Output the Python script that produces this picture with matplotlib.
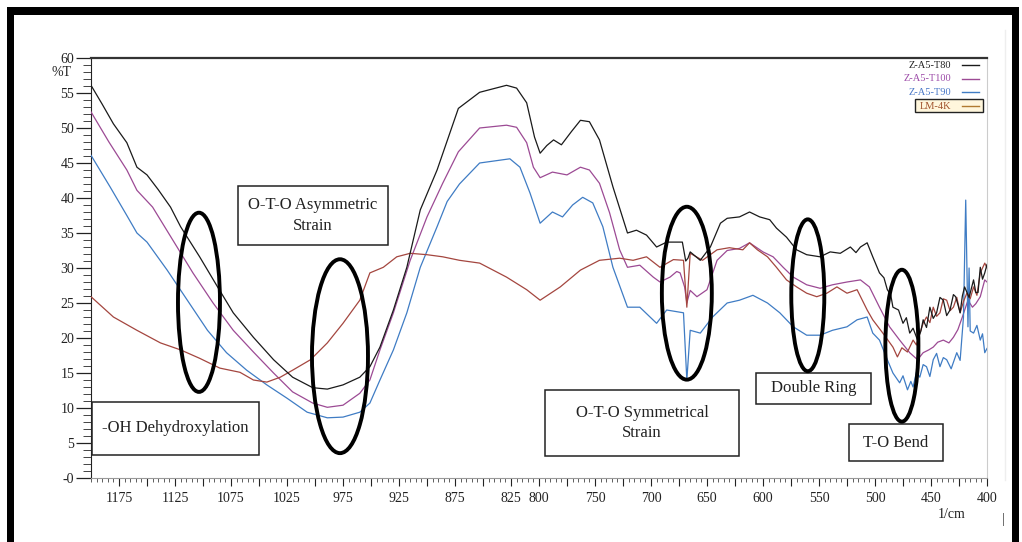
import matplotlib
matplotlib.use('Agg')
import matplotlib.pyplot as plt
from matplotlib.patches import Ellipse, Rectangle
from matplotlib.ticker import FixedLocator, MultipleLocator, FuncFormatter

plt.rcParams['font.family'] = ['Liberation Serif', 'DejaVu Serif']

# wavenumber (1/cm) and %T
wn_t80 = [1200, 1190, 1180, 1168, 1159, 1150, 1140, 1129, 1120, 1103, 1087, 1073, 1055, 1037,
          1020, 1002, 989, 975, 960, 951, 942, 930, 918, 906, 891, 872, 853, 829, 820, 811, 804,
          799, 793, 787, 780, 771, 763, 755, 746, 734, 721, 713, 704, 695, 686, 672, 669, 667,
          665, 656, 647, 638, 632, 621, 612, 603, 594, 588, 579, 570, 561, 549, 540, 531, 522,
          517, 513, 507, 502, 496, 492, 489, 486, 484, 479, 475, 472, 469, 466, 462, 459, 457,
          454, 451, 448, 445, 442, 439, 436, 433, 430, 428, 426, 424, 422, 420, 416, 412, 410,
          408, 406, 404, 402, 400]
t80 = [56.1, 53.4, 50.6, 47.9, 44.4, 43.3, 41.2, 38.7, 35.9, 31.6, 27.3, 23.6, 20.1, 16.9,
       14.4, 12.9, 12.7, 13.3, 14.4, 15.9, 18.7, 24.0, 30.1, 38.3, 44.0, 52.8, 55.1, 56.1, 55.7,
       53.6, 48.7, 46.4, 47.5, 48.3, 47.6, 49.5, 51.1, 50.9, 48.3, 41.6, 35.0, 35.4, 34.7, 33.0,
       33.7, 33.7, 31.0, 31.4, 32.3, 31.1, 33.0, 36.4, 37.1, 37.3, 38.0, 37.3, 36.9, 35.7, 34.4,
       32.6, 31.9, 31.6, 32.3, 32.1, 33.0, 32.2, 33.0, 33.6, 31.6, 29.3, 28.6, 26.9, 26.2, 24.4,
       24.0, 22.1, 22.9, 20.7, 21.4, 19.7, 21.0, 22.6, 21.5, 24.4, 22.8, 23.6, 25.8, 25.4, 23.2,
       24.0, 26.2, 25.9, 24.8, 23.6, 26.0, 27.3, 25.8, 28.3, 26.5, 26.5, 30.1, 28.4, 29.3, 30.5]

wn_t100 = [1200, 1184, 1168, 1159, 1145, 1127, 1109, 1091, 1073, 1055, 1037, 1020, 1002, 989,
           975, 960, 951, 942, 930, 915, 900, 886, 872, 853, 829, 820, 811, 805, 799, 788, 775,
           763, 755, 746, 737, 728, 721, 710, 698, 692, 683, 677, 674, 670, 668, 665, 659, 650,
           641, 632, 621, 612, 600, 591, 582, 573, 561, 549, 538, 525, 513, 505, 496, 487, 478,
           469, 462, 457, 452, 448, 444, 439, 434, 430, 426, 422, 417, 413, 410, 406, 402, 400]
t100 = [52.3, 48.0, 44.0, 41.1, 38.7, 34.0, 29.3, 25.0, 21.1, 18.0, 15.0, 12.3, 10.7, 10.1,
        10.4, 12.1, 14.0, 18.3, 23.6, 31.1, 37.3, 42.1, 46.6, 50.0, 50.4, 50.1, 47.9, 44.4, 42.9,
        43.7, 43.3, 44.4, 44.0, 42.1, 37.9, 32.6, 30.1, 30.4, 28.7, 28.0, 28.7, 29.5, 29.3, 27.3,
        25.0, 26.8, 25.9, 26.9, 31.1, 32.5, 32.8, 33.6, 32.3, 31.6, 30.1, 28.7, 27.6, 27.1, 27.6,
        28.0, 28.3, 27.3, 24.4, 21.6, 19.7, 17.9, 16.9, 17.9, 18.3, 18.7, 19.4, 19.7, 19.3, 20.1,
        21.2, 23.0, 25.4, 24.4, 24.9, 25.9, 28.3, 28.0]

wn_t90 = [1200, 1183, 1168, 1159, 1150, 1132, 1114, 1096, 1079, 1061, 1043, 1025, 1007, 989,
          975, 960, 951, 942, 930, 918, 906, 891, 882, 871, 853, 826, 817, 808, 799, 788, 779,
          770, 761, 752, 743, 734, 721, 710, 695, 686, 671, 668, 665, 656, 645, 632, 621, 609,
          596, 585, 573, 561, 549, 538, 525, 516, 507, 502, 496, 489, 484, 478, 475, 471, 468,
          466, 463, 460, 457, 454, 451, 448, 445, 442, 439, 436, 432, 427, 424, 421, 419, 417,
          416, 415, 412, 409, 406, 404, 402, 400]
t90 = [46.1, 41.6, 37.5, 35.0, 33.7, 29.7, 25.4, 21.1, 17.9, 15.4, 13.3, 11.4, 9.4, 8.6,
       8.7, 9.4, 10.7, 14.0, 18.3, 23.6, 30.1, 35.9, 39.5, 42.0, 45.0, 45.6, 44.4, 40.7, 36.4,
       38.0, 37.3, 39.0, 40.1, 39.3, 35.9, 30.1, 24.4, 24.4, 22.1, 24.0, 23.6, 14.0, 21.1, 20.7,
       23.0, 25.0, 25.4, 26.1, 25.0, 23.6, 21.6, 20.4, 20.4, 21.1, 21.6, 22.6, 23.0, 20.7, 19.7,
       16.9, 15.0, 13.6, 14.6, 12.6, 13.8, 13.0, 15.1, 14.4, 16.2, 15.9, 14.5, 16.9, 17.8, 15.9,
       17.2, 16.9, 15.6, 17.9, 16.8, 23.0, 39.7, 21.6, 30.0, 21.0, 20.7, 21.8, 19.7, 20.6, 17.9,
       18.5]

wn_lm4k = [1200, 1180, 1159, 1138, 1120, 1103, 1085, 1067, 1055, 1043, 1031, 1020, 1004, 989,
           975, 960, 951, 939, 927, 915, 900, 886, 871, 853, 829, 811, 799, 781, 763, 746, 728,
           716, 704, 692, 680, 671, 668, 665, 654, 641, 630, 618, 612, 605, 596, 588, 579, 570,
           561, 552, 543, 534, 525, 516, 507, 502, 493, 484, 480, 476, 471, 466, 463, 460, 457,
           454, 451, 448, 445, 442, 439, 436, 433, 430, 427, 424, 421, 418, 415, 412, 409, 406,
           402, 400]
lm4k = [25.9, 23.0, 21.1, 19.3, 18.3, 17.1, 15.7, 15.1, 14.0, 13.7, 14.4, 15.4, 16.9, 19.3,
        22.1, 25.4, 29.3, 30.1, 31.6, 32.1, 31.9, 31.6, 31.1, 30.7, 28.7, 26.9, 25.4, 27.3, 29.7,
        31.1, 31.4, 31.1, 31.6, 30.1, 31.2, 31.1, 24.4, 32.1, 31.1, 32.6, 32.9, 32.6, 33.6, 32.6,
        31.6, 30.1, 28.3, 27.3, 26.4, 25.9, 26.4, 27.3, 26.4, 26.9, 24.0, 22.6, 20.7, 18.7, 17.3,
        18.6, 18.0, 19.7, 19.0, 20.7, 22.1, 23.0, 22.2, 24.4, 23.1, 23.6, 25.6, 25.4, 23.9, 24.4,
        25.8, 23.6, 25.2, 26.4, 25.6, 27.3, 26.1, 29.3, 30.7, 30.0]

x_labels = [1175, 1125, 1075, 1025, 975, 925, 875, 825, 800, 750, 700, 650, 600, 550, 500, 450, 400]

fig = plt.figure(figsize=(10.22, 5.42), dpi=100)
W, H = 1022.0, 542.0
ax = fig.add_axes([91 / W, 1 - 478 / H, 896 / W, 420 / H])

ax.plot(wn_t80, t80, color='#1a1a1a', lw=0.9, zorder=4)
ax.plot(wn_t100, t100, color='#9c4a94', lw=0.9, zorder=3)
ax.plot(wn_t90, t90, color='#3f7cc4', lw=0.9, zorder=3)
ax.plot(wn_lm4k, lm4k, color='#a4463f', lw=0.9, zorder=3)

ax.set_xlim(1200, 400)
ax.set_ylim(0, 60)

ax.xaxis.set_major_locator(FixedLocator(list(range(400, 1200, 25))))
ax.xaxis.set_minor_locator(MultipleLocator(5))
ax.xaxis.set_major_formatter(FuncFormatter(lambda v, p: str(int(v)) if int(v) in x_labels else ''))
ax.yaxis.set_major_locator(MultipleLocator(5))
ax.yaxis.set_minor_locator(MultipleLocator(1))
ax.yaxis.set_major_formatter(FuncFormatter(lambda v, p: '-0' if v == 0 else str(int(v))))
ax.tick_params(axis='x', which='major', length=6, width=0.8, labelsize=10, pad=4, colors='#222222')
ax.tick_params(axis='x', which='minor', length=3, width=0.6, color='#444444')
ax.tick_params(axis='y', which='major', length=11, width=0.9, labelsize=10, pad=1, colors='#222222')
ax.tick_params(axis='y', which='minor', length=6, width=0.7, color='#444444')

ax.spines['top'].set_color('#333333')
ax.spines['top'].set_linewidth(1.6)
ax.spines['right'].set_color('#cccccc')
ax.spines['bottom'].set_color('#999999')
ax.spines['left'].set_color('#222222')

# annotation boxes (data coords)
boxes = [
    (1199, 3.3, 1050, 10.9, '-OH Dehydroxylation'),
    (1068.7, 33.3, 934.8, 41.7, 'O-T-O Asymmetric\nStrain'),
    (794.6, 3.1, 621.4, 12.6, 'O-T-O Symmetrical\nStrain'),
    (606.2, 10.6, 503.6, 15.0, 'Double Ring'),
    (523.2, 2.4, 439.3, 7.7, 'T-O Bend'),
]
for x0, y0, x1, y1, txt in boxes:
    ax.add_patch(Rectangle((x1, y0), x0 - x1, y1 - y0, fill=True, facecolor='white',
                           edgecolor='#222222', lw=1.1, zorder=5, clip_on=False))
    ax.text((x0 + x1) / 2, (y0 + y1) / 2, txt, ha='center', va='center', fontsize=12,
            linespacing=1.4, color='#222222', zorder=6)

# highlight ellipses
ellipses = [(1103.6, 25.1, 37.5, 25.6), (977.7, 17.4, 50, 27.7), (668, 26.4, 44.6, 24.7),
            (560, 26.1, 29.5, 21.7), (476, 18.9, 29.5, 21.7)]
for cx, cy, w, h in ellipses:
    ax.add_patch(Ellipse((cx, cy), w, h, fill=False, edgecolor='black', lw=2.8, zorder=7,
                         clip_on=False))

# legend, drawn in figure pixels
def fx(x):
    return x / W

def fy(y):
    return 1 - y / H

legend_rows = [('Z-A5-T80', '#1a1a1a', '#222222'), ('Z-A5-T100', '#9c4a94', '#9c4aa8'),
               ('Z-A5-T90', '#3f7cc4', '#4a78c8'), ('LM-4K', '#b07a30', '#a0522d')]
fig.add_artist(Rectangle((fx(915), fy(112)), (983 - 915) / W, 13 / H, transform=fig.transFigure,
                         facecolor='#fff6dc', edgecolor='#222222', lw=1.0, zorder=1.5))
for i, (lab, lc, tc) in enumerate(legend_rows):
    yy = 65 + i * 13.7
    fig.text(fx(951), fy(yy), lab, ha='right', va='center', fontsize=7.5, color=tc, zorder=3)
    fig.add_artist(plt.Line2D([fx(962), fx(979)], [fy(yy), fy(yy)], color=lc, lw=1.0, zorder=3))

fig.text(fx(72), fy(72), '%T', ha='right', va='center', fontsize=10, color='#222222')
fig.text(fx(965), fy(515), '1/cm', ha='right', va='center', fontsize=10, color='#222222')
fig.text(fx(1003), fy(520), '|', ha='center', va='center', fontsize=10, color='#444444')
fig.add_artist(plt.Line2D([fx(1005), fx(1005)], [fy(30), fy(480)], color='#eeeeee', lw=1.0))

# thick black frame around the picture (top, left and right bands)
for x0, y0, x1, y1 in [(7, 7, 1019, 15), (7, 7, 14, 542), (1012, 7, 1019, 542)]:
    fig.add_artist(Rectangle((fx(x0), fy(y1)), (x1 - x0) / W, (y1 - y0) / H,
                             transform=fig.transFigure, facecolor='black', edgecolor='none'))

fig.savefig('out.png', dpi=100)
